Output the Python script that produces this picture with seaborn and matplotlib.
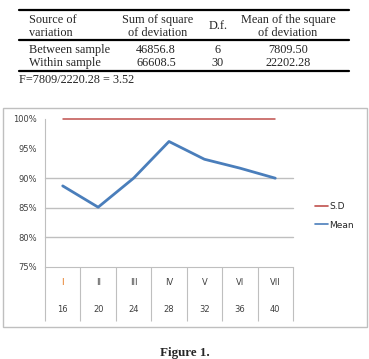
import pandas as pd
import matplotlib.pyplot as plt
import matplotlib.transforms as mtransforms
from matplotlib.lines import Line2D
from matplotlib.patches import Rectangle
import seaborn as sns

# table data
table_header = [["Source of", "variation"], ["Sum of square", "of deviation"], ["D.f."],
                ["Mean of the square", "of deviation"]]
row_sources = ["Between sample", "Within sample"]
row_ss = ["46856.8", "66608.5"]
row_df = ["6", "30"]
row_ms = ["7809.50", "22202.28"]
f_text = "F=7809/2220.28 = 3.52"

# chart data
groups = ["I", "II", "III", "IV", "V", "VI", "VII"]
sizes = ["16", "20", "24", "28", "32", "36", "40"]
mean_vals = [0.887, 0.851, 0.900, 0.962, 0.932, 0.917, 0.900]
sd_vals = [1.0, 1.0, 1.0, 1.0, 1.0, 1.0, 1.0]

sns.set_style("white")
plt.rcParams["font.family"] = ["DejaVu Sans"]

W, H = 369, 359
fig = plt.figure(figsize=(W / 100, H / 100), dpi=100)

def fx(x):
    return x / W

def fy(y):
    return 1 - y / H

# ---- table ----
serif = "Liberation Serif"
fs = 8.8
for y in (10, 40, 71):
    fig.add_artist(Line2D([fx(19), fx(349)], [fy(y), fy(y)], color="black", lw=1.6))
col_x = [29, 158, 218, 288]
for i, lines in enumerate(table_header):
    ha = "left" if i == 0 else "center"
    if len(lines) == 2:
        ys = [20, 33]
    else:
        ys = [26]
    for t, y in zip(lines, ys):
        fig.text(fx(col_x[i]), fy(y), t, ha=ha, va="center", family=serif, fontsize=fs)
for r, y in enumerate([50, 63]):
    fig.text(fx(col_x[0]), fy(y), row_sources[r], ha="left", va="center", family=serif, fontsize=fs)
    fig.text(fx(156), fy(y), row_ss[r], ha="center", va="center", family=serif, fontsize=fs)
    fig.text(fx(col_x[2]), fy(y), row_df[r], ha="center", va="center", family=serif, fontsize=fs)
    fig.text(fx(col_x[3]), fy(y), row_ms[r], ha="center", va="center", family=serif, fontsize=fs)
fig.text(fx(19), fy(80), f_text, ha="left", va="center", family=serif, fontsize=fs)

# ---- chart ----
fig.patches.append(Rectangle((fx(3), fy(327)), 364 / W, 219 / H, transform=fig.transFigure,
                             fill=False, ec="#BFBFBF", lw=1))
ax = fig.add_axes([fx(45), fy(267), 248 / W, 148 / H])

df = pd.DataFrame({"group": groups, "mean": mean_vals, "sd": sd_vals})
for v in (0.80, 0.85, 0.90):
    ax.axhline(v, color="#BFBFBF", lw=1, zorder=0)
sns.lineplot(data=df, x="group", y="sd", ax=ax, color="#C0504D", lw=1.1, label="S.D")
sns.lineplot(data=df, x="group", y="mean", ax=ax, color="#4A7EBB", lw=2, label="Mean")
for ln in ax.lines:
    ln.set_clip_on(False)

ax.set_xlim(-0.5, 6.5)
ax.set_ylim(0.75, 1.0)
ax.set_xlabel("")
ax.set_ylabel("")
ax.set_yticks([0.75, 0.80, 0.85, 0.90, 0.95, 1.00])
ax.set_yticklabels(["75%", "80%", "85%", "90%", "95%", "100%"])
ax.set_xticks(range(len(groups)))
ax.set_xticklabels(groups)
ax.set_xticks([i - 0.5 for i in range(len(groups) + 1)], minor=True)
ax.tick_params(axis="both", which="major", length=0, labelsize=6, labelcolor="#404040")
ax.tick_params(axis="y", pad=6)
ax.tick_params(axis="x", pad=8)
ax.tick_params(axis="x", which="minor", bottom=True, length=39, width=0.8, color="#BFBFBF",
               direction="out")
ax.get_xticklabels()[0].set_color("#E46C0A")
trans = mtransforms.blended_transform_factory(ax.transData, ax.transAxes)
for i, s in enumerate(sizes):
    ax.text(i, -43 / 148, s, transform=trans, ha="center", va="center", fontsize=6, color="#404040")

for side in ("top", "right"):
    ax.spines[side].set_visible(False)
for side in ("left", "bottom"):
    ax.spines[side].set_color("#BFBFBF")
    ax.spines[side].set_linewidth(0.8)

leg = ax.legend(loc="center left", bbox_to_anchor=(fx(307), fy(216)), bbox_transform=fig.transFigure,
                frameon=False, fontsize=6.5, handlelength=1.4, handletextpad=0.2, labelspacing=1.0)
for h in leg.get_lines():
    h.set_linewidth(1.2)

fig.text(fx(185), fy(353), "Figure 1.", ha="center", va="center", family=serif,
         fontsize=9.4, fontweight="bold")

fig.savefig("out.png", dpi=100)
